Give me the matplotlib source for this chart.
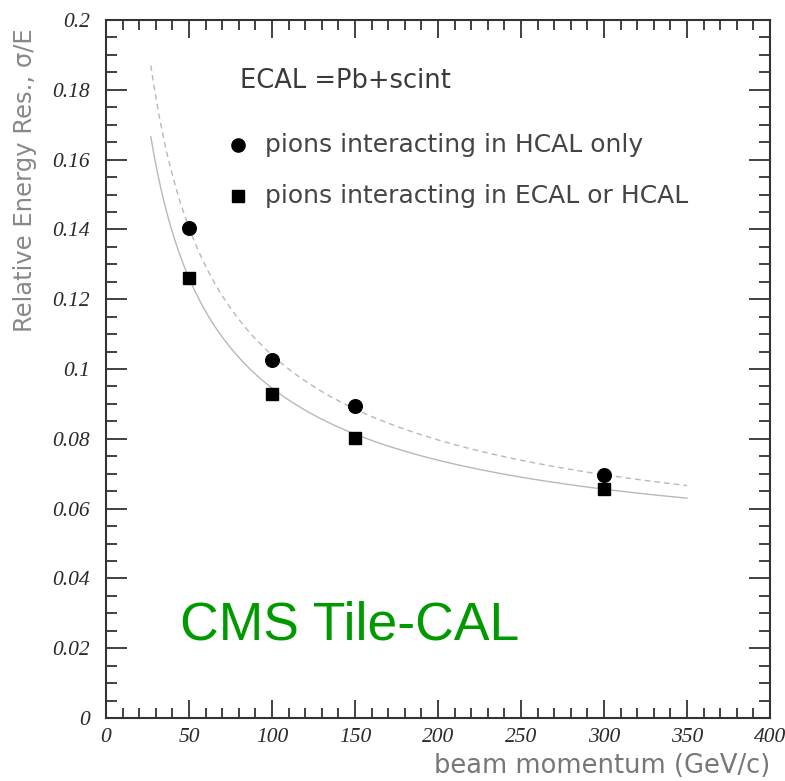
import numpy as np
import matplotlib
matplotlib.use("Agg")
import matplotlib.pyplot as plt
from matplotlib.ticker import MultipleLocator, FuncFormatter

# Measured resolution points
momentum = [50, 100, 150, 300]
res_hcal_only = [0.1405, 0.1026, 0.0894, 0.0696]
res_ecal_or_hcal = [0.1262, 0.0929, 0.0803, 0.0656]

# Fit parameters: sigma/E = sqrt(a^2/p + b^2)
fit_hcal_only = (0.945, 0.0434)
fit_ecal_or_hcal = (0.834, 0.0445)
fit_range = (27, 350)

legend_labels = ["pions interacting in HCAL only", "pions interacting in ECAL or HCAL"]

fig = plt.figure(figsize=(7.85, 7.81), dpi=100)
ax = fig.add_axes([106 / 785, 1 - 718 / 781, 664 / 785, 698 / 781])

p = np.linspace(fit_range[0], fit_range[1], 400)
for (a, b), ls in [(fit_hcal_only, (0, (4, 3))), (fit_ecal_or_hcal, "-")]:
    ax.plot(p, np.sqrt(a ** 2 / p + b ** 2), color="#b8b8b8", lw=1.0, ls=ls, zorder=1)

ax.plot(momentum, res_hcal_only, "o", color="black", ms=9.8, zorder=3)
ax.plot(momentum, res_ecal_or_hcal, "s", color="black", ms=9.2, zorder=3)

ax.set_xlim(0, 400)
ax.set_ylim(0, 0.2)
ax.xaxis.set_major_locator(MultipleLocator(50))
ax.xaxis.set_minor_locator(MultipleLocator(10))
ax.yaxis.set_major_locator(MultipleLocator(0.02))
ax.yaxis.set_minor_locator(MultipleLocator(0.005))

def fmt(v, pos):
    s = f"{v:.2f}".rstrip("0").rstrip(".")
    return s

ax.yaxis.set_major_formatter(FuncFormatter(fmt))
ax.xaxis.set_major_formatter(FuncFormatter(lambda v, pos: f"{v:.0f}"))

ax.tick_params(which="both", direction="in", top=True, right=True, color="#333333", width=1.3)
ax.tick_params(axis="y", which="major", length=15, pad=11.5)
ax.tick_params(axis="y", which="minor", length=8)
ax.tick_params(axis="x", which="major", length=13, pad=7)
ax.tick_params(axis="x", which="minor", length=7)
for lab in ax.get_xticklabels() + ax.get_yticklabels():
    lab.set_fontfamily("Liberation Serif")
    lab.set_fontstyle("italic")
    lab.set_fontsize(15.5)
    lab.set_color("#2a2a2a")
for sp in ax.spines.values():
    sp.set_linewidth(1.5)
    sp.set_color("#333333")

fig.text(25 / 785, 1 - 180 / 781, "Relative Energy Res., σ/E", rotation=90,
         ha="center", va="center", fontsize=17.5, color="#888888", family="DejaVu Sans")
fig.text(770 / 785, 1 - 766 / 781, "beam momentum (GeV/c)", ha="right", va="center",
         fontsize=18.5, color="#777777", family="DejaVu Sans")

ax.text(81, 0.1825, "ECAL =Pb+scint", fontsize=18.5,
        color="#3a3a3a", va="center", ha="left", family="DejaVu Sans")
ax.plot([79.5], [0.1643], "o", color="black", ms=9.5)
ax.plot([79.5], [0.1497], "s", color="black", ms=9)
ax.text(96, 0.1643, legend_labels[0], fontsize=18, color="#444444",
        va="center", ha="left", family="DejaVu Sans")
ax.text(96, 0.1497, legend_labels[1], fontsize=18, color="#444444",
        va="center", ha="left", family="DejaVu Sans")

ax.text(44.5, 0.0265, "CMS Tile-CAL", fontsize=38.5, color="#009900",
        va="center", ha="left", family="Liberation Sans")

fig.savefig("out.png", dpi=100)
